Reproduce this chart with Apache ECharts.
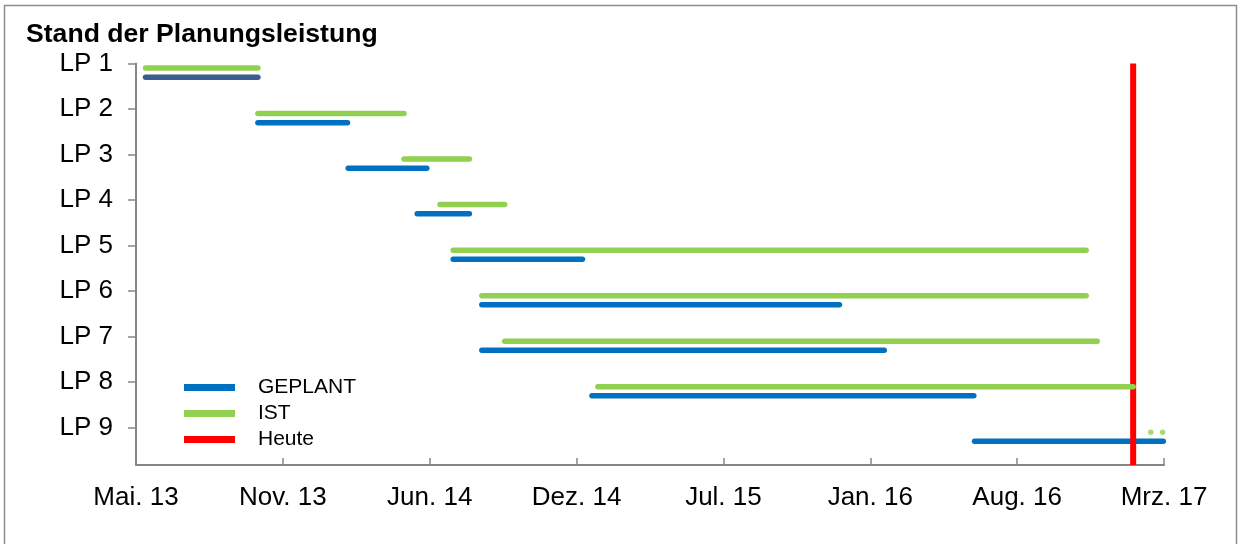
<!DOCTYPE html>
<html>
<head>
<meta charset="utf-8">
<script src="https://cdn.jsdelivr.net/npm/echarts@6/dist/echarts.min.js"></script>
<style>
  html, body { margin: 0; padding: 0; background: #fff; }
  #main { width: 1241px; height: 544px; }
</style>
</head>
<body>
<div id="main"></div>
<script>
// Zeilen und Achsenbeschriftung
var rows = ["LP 1", "LP 2", "LP 3", "LP 4", "LP 5", "LP 6", "LP 7", "LP 8", "LP 9"];
var tickLabels = ["Mai. 13", "Nov. 13", "Jun. 14", "Dez. 14", "Jul. 15", "Jan. 16", "Aug. 16", "Mrz. 17"];
var axisStart = "2013-05-01"; // erster Tick, danach alle 200 Tage

// GEPLANT
var planStart = ["2013-05-14", "2013-10-14", "2014-02-14", "2014-05-19", "2014-07-07", "2014-08-15", "2014-08-15", "2015-01-12", "2016-06-16"];
var planEnd = ["2013-10-14", "2014-02-13", "2014-06-01", "2014-07-29", "2014-12-30", "2015-12-15", "2016-02-14", "2016-06-15", "2017-02-28"];
// IST
var istStart = ["2013-05-14", "2013-10-14", "2014-05-01", "2014-06-19", "2014-07-07", "2014-08-15", "2014-09-15", "2015-01-20", "2017-02-11"];
var istEnd = ["2013-10-14", "2014-05-01", "2014-07-29", "2014-09-15", "2016-11-15", "2016-11-15", "2016-11-30", "2017-01-18", "2017-02-27"];
// Heute
var today = "2017-01-18";

var BLUE = "#0070C0", BLUE_LP1 = "#3B5E8E", GREEN = "#92D050", RED = "#FF0000", AXIS = "#868686";
var FONT = "Liberation Sans, Arial, sans-serif";
var yMax = 9.82;

function dayOf(d) {
  return (Date.parse(d) - Date.parse(axisStart)) / 86400000;
}

var series = [];
// geplante Balken (unten in der Zeile)
for (var i = 0; i < rows.length; i++) {
  series.push({
    name: "GEPLANT",
    type: "line",
    color: i === 0 ? BLUE_LP1 : BLUE,
    showSymbol: false,
    lineStyle: { width: 5.5, cap: "round", color: i === 0 ? BLUE_LP1 : BLUE },
    data: [[dayOf(planStart[i]), i + 1.3], [dayOf(planEnd[i]), i + 1.3]],
    z: 2
  });
}
// Heute-Linie
series.push({
  name: "Heute",
  type: "line",
  color: RED,
  showSymbol: false,
  lineStyle: { width: 6, color: RED },
  data: [[dayOf(today), 1], [dayOf(today), yMax]],
  z: 3
});
// IST-Balken (oben in der Zeile)
for (var j = 0; j < rows.length; j++) {
  if (rows[j] === "LP 9") {
    // LP 9 hat im Original nur zwei Punkte
    series.push({
      name: "IST",
      type: "scatter",
      color: GREEN,
      symbol: "circle",
      symbolSize: 5.5,
      itemStyle: { color: GREEN },
      data: [[dayOf(istStart[j]), j + 1.1], [dayOf(istEnd[j]), j + 1.1]],
      z: 4
    });
    continue;
  }
  series.push({
    name: "IST",
    type: "line",
    color: GREEN,
    showSymbol: false,
    lineStyle: { width: 5.5, cap: "round", color: GREEN },
    data: [[dayOf(istStart[j]), j + 1.1], [dayOf(istEnd[j]), j + 1.1]],
    z: 4
  });
}

var chart = echarts.init(document.getElementById("main"));
var option = {
  animation: false,
  backgroundColor: "#fff",
  textStyle: { fontFamily: FONT },
  title: {
    text: "Stand der Planungsleistung",
    left: 26,
    top: 21,
    padding: 0,
    textStyle: { fontFamily: FONT, fontSize: 26.6, fontWeight: "bold", color: "#000" }
  },
  legend: {
    orient: "vertical",
    left: 184,
    top: 377,
    padding: 0,
    itemWidth: 51,
    itemHeight: 7,
    itemGap: 5,
    data: [
      { name: "GEPLANT", icon: "rect", itemStyle: { color: BLUE } },
      { name: "IST", icon: "rect", itemStyle: { color: GREEN } },
      { name: "Heute", icon: "rect", itemStyle: { color: RED } }
    ],
    textStyle: { fontFamily: FONT, fontSize: 21, color: "#000", padding: [0, 0, 0, 18] }
  },
  grid: { left: 136, right: 77, top: 63.5, bottom: 79, containLabel: false },
  xAxis: {
    type: "value",
    min: 0,
    max: 1400,
    interval: 200,
    splitLine: { show: false },
    axisLine: { lineStyle: { color: AXIS, width: 2 } },
    axisTick: { inside: true, length: 7, lineStyle: { color: AXIS, width: 1.5 } },
    axisLabel: {
      margin: 20,
      fontFamily: FONT,
      fontSize: 26,
      color: "#000",
      formatter: function (v) {
        return tickLabels[Math.round(v / 200)] || "";
      }
    }
  },
  yAxis: {
    type: "value",
    inverse: true,
    min: 1,
    max: yMax,
    interval: 1,
    splitLine: { show: false },
    axisLine: { lineStyle: { color: AXIS, width: 2 } },
    axisTick: { length: 8, lineStyle: { color: AXIS, width: 1.5 }, customValues: [1, 2, 3, 4, 5, 6, 7, 8, 9] },
    axisLabel: {
      margin: 23,
      fontFamily: FONT,
      fontSize: 26,
      color: "#000",
      customValues: [1, 2, 3, 4, 5, 6, 7, 8, 9],
      formatter: function (v) {
        return Number.isInteger(v) ? rows[v - 1] : "";
      }
    }
  },
  graphic: [{
    type: "rect",
    shape: { x: 4.5, y: 5.5, width: 1232, height: 560 },
    style: { fill: null, stroke: "#8C8C8C", lineWidth: 1.5 },
    silent: true,
    z: -1
  }],
  series: series
};
chart.setOption(option);
</script>
</body>
</html>
